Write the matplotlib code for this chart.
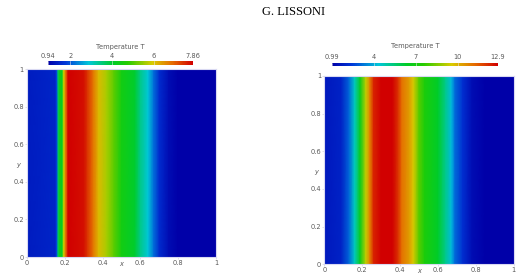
import numpy as np
import matplotlib
matplotlib.use("Agg")
import matplotlib.pyplot as plt
from matplotlib.colors import LinearSegmentedColormap, Normalize
from matplotlib.cm import ScalarMappable

# ---- data ----
left_x = [0.0, 0.15, 0.16, 0.165, 0.175, 0.185, 0.195, 0.205, 0.215, 0.22, 0.30, 0.32,
          0.35, 0.38, 0.42, 0.46, 0.50, 0.57, 0.60, 0.64, 0.67, 0.70, 0.75, 0.80, 1.0]
left_T = [1.35, 1.5, 2.0, 3.7, 4.4, 4.1, 5.8, 6.8, 7.6, 7.86, 7.7, 7.4,
          6.8, 6.1, 5.6, 5.1, 4.4, 4.0, 3.4, 2.9, 2.2, 1.6, 1.15, 0.94, 0.94]
left_range = [0.94, 7.86]
left_ticks = [0.94, 2, 4, 6, 7.86]
left_ticklabels = ["0.94", "2", "4", "6", "7.86"]

right_x = [0.0, 0.09, 0.13, 0.16, 0.19, 0.22, 0.24, 0.26, 0.30, 0.36, 0.39, 0.41,
           0.45, 0.47, 0.50, 0.53, 0.60, 0.64, 0.67, 0.69, 0.73, 0.78, 0.85, 1.0]
right_T = [1.6, 1.9, 3.0, 4.6, 6.7, 9.3, 10.8, 12.3, 12.9, 12.9, 12.1, 11.1,
           10.3, 9.6, 8.1, 7.2, 6.3, 5.2, 4.2, 3.1, 2.2, 1.35, 0.99, 0.99]
right_range = [0.99, 12.9]
right_ticks = [0.99, 4, 7, 10, 12.9]
right_ticklabels = ["0.99", "4", "7", "10", "12.9"]

axis_ticks = [0, 0.2, 0.4, 0.6, 0.8, 1]
axis_ticklabels = ["0", "0.2", "0.4", "0.6", "0.8", "1"]
header = "G. LISSONI"
cbar_title = "Temperature T"

# ---- styling ----
cmap = LinearSegmentedColormap.from_list("pv", [
    (0.0, (0.0, 0.0, 0.66)),
    (0.12, (0.0, 0.22, 0.85)),
    (0.28, (0.0, 0.78, 0.85)),
    (0.45, (0.0, 0.80, 0.15)),
    (0.55, (0.15, 0.80, 0.0)),
    (0.72, (0.85, 0.80, 0.0)),
    (0.86, (0.90, 0.42, 0.0)),
    (1.0, (0.82, 0.0, 0.0)),
])

W, H = 522, 276
fig = plt.figure(figsize=(W / 100, H / 100), dpi=100)
plt.rcParams['font.family'] = ['DejaVu Sans']
txtcol = (0.35, 0.35, 0.35)

def px(x0, y0, x1, y1):
    return [x0 / W, 1 - y1 / H, (x1 - x0) / W, (y1 - y0) / H]

def panel(axrect, cbrect, xs, Ts, rng, cticks, cticklabels, cbtitle_y):
    ax = fig.add_axes(axrect)
    xs = np.asarray(xs)
    Ts = np.asarray(Ts)
    X, Y = np.meshgrid(xs, [0.0, 1.0])
    Z = np.vstack([Ts, Ts])
    norm = Normalize(rng[0], rng[1])
    ax.pcolormesh(X, Y, Z, cmap=cmap, norm=norm, shading='gouraud')
    ax.set_xlim(0, 1)
    ax.set_ylim(0, 1)
    ax.set_xticks(axis_ticks)
    ax.set_xticklabels(axis_ticklabels)
    ax.set_yticks(axis_ticks)
    ax.set_yticklabels(axis_ticklabels)
    ax.tick_params(length=1.5, width=0.4, pad=0.8, labelsize=4.8,
                   colors=txtcol, color=(0.8, 0.8, 0.85))
    for s in ax.spines.values():
        s.set_color((0.85, 0.85, 0.95))
        s.set_linewidth(0.8)
    ax.text(0.5, -0.037, "x", transform=ax.transAxes, ha='center', va='center',
            fontsize=4.8, style='italic', color=txtcol)
    ax.text(-0.035, 0.49, "y", transform=ax.transAxes, ha='right', va='center',
            fontsize=4.8, style='italic', color=txtcol)

    cax = fig.add_axes(cbrect)
    cb = fig.colorbar(ScalarMappable(norm=norm, cmap=cmap), cax=cax,
                      orientation='horizontal')
    cb.outline.set_visible(False)
    cax.xaxis.set_ticks_position('top')
    cb.set_ticks(cticks)
    cb.set_ticklabels(cticklabels)
    cax.tick_params(length=0, pad=2.0, labelsize=4.8, colors=txtcol)
    for t in cticks:
        cax.axvline(t, color=(0.9, 0.9, 0.9), lw=0.4)
    fig.text(cbrect[0] + cbrect[2] / 2, cbtitle_y, cbar_title, ha='center',
             va='center', fontsize=4.8, color=txtcol)
    return ax

panel(px(27, 69, 216, 257), px(48, 61.3, 193, 65), left_x, left_T, left_range,
      left_ticks, left_ticklabels, 1 - 47 / H)
panel(px(324.3, 76, 513.7, 264.3), px(332, 62.7, 498, 65.7), right_x, right_T,
      right_range, right_ticks, right_ticklabels, 1 - 45.7 / H)

fig.text(294 / W, 1 - 12 / H, header, ha='center', va='center', fontsize=9,
         family=['Liberation Serif', 'DejaVu Serif'], color='black')

fig.savefig("out.png", dpi=100)
